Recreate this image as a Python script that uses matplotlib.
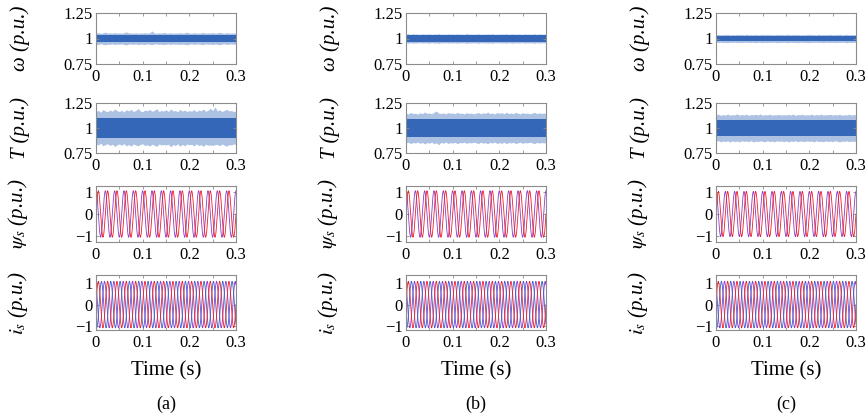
import numpy as np
import matplotlib as mpl
import matplotlib.pyplot as plt
from matplotlib.ticker import MultipleLocator, FixedLocator

mpl.rcParams['font.family'] = ['Liberation Serif', 'DejaVu Serif']
mpl.rcParams['mathtext.fontset'] = 'stix'

# ---------------- data ----------------
panel_tags = ['(a)', '(b)', '(c)']
row_labels = ['\u03c9 (p.u.)', 'T (p.u.)', r'$\psi_s$ (p.u.)', r'$i_s$ (p.u.)']
x_label = 'Time (s)'
x_ticks = [0, 0.1, 0.2, 0.3]
x_ticklabels = ['0', '0.1', '0.2', '0.3']
noise_ticks = [0.75, 1, 1.25]
noise_ticklabels = ['0.75', '1', '1.25']
wave_ticks = [-1, 0, 1]
wave_ticklabels = ['\u22121', '0', '1']

# envelope sample times: 0 .. 0.3 s every 5 ms
t_env = np.arange(61) * 0.005

# speed deviation from 1 p.u. (x 0.001): outer envelope above / below, per column
omega_up = [
    [52, 58, 50, 55, 62, 53, 56, 51, 59, 53, 55, 52, 58, 64, 56, 54, 52, 57, 50, 55,
     53, 58, 52, 56, 74, 54, 51, 57, 53, 60, 54, 52, 57, 50, 55, 53, 58, 52, 56, 62,
     54, 51, 57, 53, 52, 55, 59, 51, 56, 53, 58, 52, 56, 61, 54, 51, 57, 53, 52, 55, 54],
    [42, 46, 41, 48, 43, 45, 40, 47, 42, 44, 46, 41, 45, 43, 48, 42, 44, 41, 46, 43,
     45, 42, 47, 43, 44, 41, 50, 43, 45, 42, 44, 47, 41, 45, 42, 46, 43, 48, 41, 44,
     42, 45, 43, 47, 41, 44, 46, 42, 45, 43, 41, 46, 43, 44, 42, 47, 41, 45, 43, 42, 44],
    [37, 41, 36, 40, 38, 42, 36, 39, 37, 41, 38, 40, 36, 42, 38, 39, 37, 41, 36, 39,
     40, 37, 42, 38, 39, 36, 41, 38, 40, 37, 39, 42, 37, 40, 38, 41, 36, 39, 37, 40,
     41, 38, 39, 36, 42, 37, 40, 38, 39, 41, 37, 40, 38, 42, 36, 39, 41, 37, 40, 38, 39],
]
omega_dn = [
    [54, 59, 52, 57, 62, 55, 58, 51, 60, 54, 57, 52, 59, 63, 56, 54, 58, 52, 60, 55,
     57, 59, 53, 56, 61, 54, 52, 58, 55, 60, 56, 53, 59, 52, 57, 55, 59, 54, 58, 62,
     55, 52, 58, 54, 53, 57, 60, 52, 57, 55, 59, 53, 57, 61, 55, 52, 58, 54, 53, 56, 54],
    [42, 46, 41, 47, 43, 45, 40, 46, 42, 44, 47, 41, 45, 43, 48, 42, 44, 41, 46, 43,
     45, 42, 47, 43, 44, 41, 49, 43, 45, 42, 44, 47, 41, 45, 42, 46, 43, 47, 41, 44,
     42, 45, 43, 47, 41, 44, 46, 42, 45, 43, 41, 46, 43, 44, 42, 48, 41, 45, 43, 42, 44],
    [37, 40, 36, 41, 38, 42, 37, 39, 36, 40, 38, 41, 36, 39, 38, 40, 37, 42, 36, 39,
     40, 38, 41, 37, 39, 36, 42, 38, 40, 37, 39, 41, 37, 40, 38, 42, 36, 39, 38, 40,
     41, 37, 39, 36, 40, 38, 41, 37, 39, 40, 37, 41, 38, 40, 36, 39, 42, 37, 40, 38, 39],
]
omega_core = [36, 30, 26]

# torque deviation from 1 p.u. (x 0.001): outer envelope above / below, per column
torque_up = [
    [165, 177, 157, 185, 170, 163, 180, 167, 190, 173, 165, 177, 160, 183, 171, 187, 165, 175, 195, 170,
     163, 180, 173, 185, 167, 177, 193, 165, 175, 170, 183, 165, 190, 171, 175, 163, 187, 169, 180, 165,
     175, 168, 185, 163, 180, 172, 190, 167, 177, 197, 175, 210, 170, 183, 165, 177, 187, 171, 175, 165, 170],
    [150, 140, 156, 145, 148, 138, 154, 143, 160, 146, 150, 142, 158, 170, 148, 144, 152, 140, 155, 147,
     151, 143, 157, 146, 149, 141, 154, 145, 150, 142, 148, 156, 142, 152, 146, 160, 143, 151, 140, 155,
     147, 154, 141, 158, 145, 150, 143, 156, 148, 142, 154, 145, 150, 142, 148, 157, 144, 151, 146, 149, 148],
    [130, 138, 126, 135, 129, 140, 127, 133, 131, 142, 128, 136, 130, 139, 126, 134, 132, 137, 129, 141,
     127, 135, 130, 138, 128, 133, 131, 136, 129, 134, 130, 137, 128, 141, 126, 135, 132, 138, 129, 133,
     131, 139, 127, 136, 130, 140, 128, 134, 132, 137, 129, 135, 131, 138, 127, 133, 130, 139, 128, 136, 130],
]
torque_dn = [
    [160, 170, 152, 178, 165, 158, 175, 162, 185, 168, 160, 173, 155, 180, 165, 182, 160, 170, 178, 164,
     158, 175, 168, 180, 162, 172, 184, 160, 170, 165, 170, 162, 188, 166, 175, 158, 182, 164, 178, 160,
     168, 163, 180, 158, 175, 167, 184, 162, 172, 170, 174, 166, 165, 178, 160, 172, 182, 166, 170, 160, 165],
    [150, 142, 156, 145, 150, 140, 154, 144, 160, 146, 152, 141, 158, 148, 168, 144, 152, 140, 155, 147,
     151, 143, 157, 146, 149, 141, 154, 145, 150, 142, 148, 156, 142, 152, 146, 158, 143, 151, 140, 155,
     147, 154, 141, 158, 145, 150, 143, 156, 148, 142, 154, 145, 150, 142, 148, 157, 144, 151, 146, 149, 148],
    [132, 127, 138, 130, 135, 128, 141, 129, 136, 131, 139, 128, 134, 130, 137, 126, 140, 132, 135, 129,
     133, 138, 127, 136, 131, 139, 128, 134, 130, 137, 129, 140, 131, 135, 127, 138, 130, 133, 136, 128,
     134, 130, 139, 127, 136, 132, 138, 129, 135, 131, 137, 128, 133, 140, 130, 135, 127, 138, 131, 134, 132],
]
torque_core = [100, 92, 82]

# one electrical period (20 ms) of the waveforms, 24 samples per period
n_cycles = 15
psi_cycle = [0.00, 0.27, 0.53, 0.75, 0.92, 1.03, 1.08, 1.03, 0.92, 0.75, 0.53, 0.27,
             0.00, -0.27, -0.53, -0.75, -0.92, -1.03, -1.08, -1.03, -0.92, -0.75, -0.53, -0.27]
cur_cycle = [0.00, 0.29, 0.54, 0.78, 0.93, 1.06, 1.10, 1.04, 0.94, 0.76, 0.55, 0.26,
             0.00, -0.29, -0.54, -0.78, -0.93, -1.06, -1.10, -1.04, -0.94, -0.76, -0.55, -0.26]
psi_beta_shift = 6      # quarter period
cur_phase_shift = 8     # one third of a period
psi_scale = [1.0, 1.0, 0.97]

# ---------------- styles ----------------
BLUE = '#3467b8'
RED = '#f01d24'
PURPLE = '#8a3bc8'
IBLUE = '#3a5fcf'
SPINE = '#8c8c8c'

W, H = 866, 418
fig = plt.figure(figsize=(W / 100, H / 100), dpi=100)

col_left = [96, 406, 716]
col_w = 140
rows_px = [(13, 64), (103, 153), (186, 242), (275, 330)]


def make_ax(ci, ri, label):
    top, bot = rows_px[ri]
    ax = fig.add_axes([col_left[ci] / W, 1 - bot / H, col_w / W, (bot - top) / H])
    ax.set_xlim(0, 0.3)
    ax.xaxis.set_major_locator(FixedLocator(x_ticks))
    ax.set_xticklabels(x_ticklabels)
    ax.xaxis.set_minor_locator(MultipleLocator(0.05))
    ax.tick_params(which='both', direction='in', top=True, right=True,
                   color=SPINE, labelsize=12, width=0.6, length=2.5)
    ax.tick_params(axis='x', pad=3.5)
    ax.tick_params(axis='y', pad=2.5)
    for s in ax.spines.values():
        s.set_color(SPINE)
        s.set_linewidth(0.8)
    ax.set_ylabel(label, fontsize=15, fontstyle='italic')
    ax.yaxis.set_label_coords(-0.47, 0.5)
    return ax


def noise_panel(ax, up, dn, core):
    up = 1 + np.asarray(up) / 1000.0
    dn = 1 - np.asarray(dn) / 1000.0
    ax.fill_between(t_env, dn, up, color=BLUE, alpha=0.4, lw=0)
    ax.fill_between([0, 0.3], [1 - core / 1000.0] * 2, [1 + core / 1000.0] * 2,
                    color=BLUE, lw=0)
    ax.set_ylim(0.75, 1.25)
    ax.set_yticks(noise_ticks)
    ax.set_yticklabels(noise_ticklabels)


n = n_cycles * len(psi_cycle)
t_wave = np.arange(n + 1) * (0.3 / n)

for ci in range(3):
    ax = make_ax(ci, 0, row_labels[0])
    noise_panel(ax, omega_up[ci], omega_dn[ci], omega_core[ci])

    ax = make_ax(ci, 1, row_labels[1])
    noise_panel(ax, torque_up[ci], torque_dn[ci], torque_core[ci])

    # flux
    ax = make_ax(ci, 2, row_labels[2])
    pa = np.tile(psi_cycle, n_cycles) * psi_scale[ci]
    pb = np.tile(np.roll(psi_cycle, -psi_beta_shift), n_cycles) * psi_scale[ci]
    pa, pb = (np.append(v, v[0]) for v in (pa, pb))
    ax.plot(t_wave, pb, color=PURPLE, lw=0.6)
    ax.plot(t_wave, pa, color=RED, lw=0.6)
    ax.set_ylim(-1.3, 1.3)
    ax.set_yticks(wave_ticks)
    ax.set_yticklabels(wave_ticklabels)

    # current
    ax = make_ax(ci, 3, row_labels[3])
    ia = np.tile(cur_cycle, n_cycles)
    ib = np.tile(np.roll(cur_cycle, cur_phase_shift), n_cycles)
    ic = np.tile(np.roll(cur_cycle, -cur_phase_shift), n_cycles)
    ia, ib, ic = (np.append(v, v[0]) for v in (ia, ib, ic))
    ax.plot(t_wave, ic, color=PURPLE, lw=0.6)
    ax.plot(t_wave, ib, color=IBLUE, lw=0.6)
    ax.plot(t_wave, ia, color=RED, lw=0.6)
    ax.set_ylim(-1.2, 1.4)
    ax.set_yticks(wave_ticks)
    ax.set_yticklabels(wave_ticklabels)

    cx = (col_left[ci] + col_w / 2) / W
    fig.text(cx, 1 - 371 / H, x_label, ha='center', va='center', fontsize=15)
    fig.text(cx, 1 - 404 / H, panel_tags[ci], ha='center', va='center', fontsize=13)

fig.savefig('out.png', dpi=100)
